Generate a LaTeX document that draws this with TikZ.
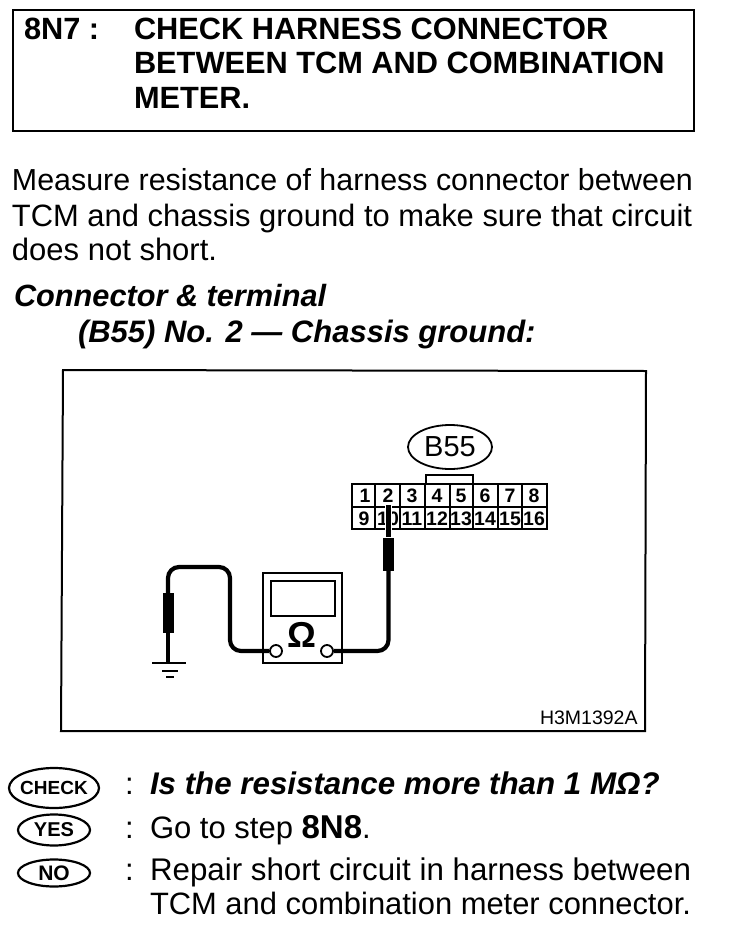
\documentclass[tikz,border=0pt]{standalone}
\usepackage{fontspec}
\setmainfont{Liberation Sans}
\usetikzlibrary{shapes.geometric}
\newcommand{\fsz}[1]{\fontsize{#1}{32}\selectfont}
\tikzset{
 txt/.style={anchor=base west,inner sep=0pt,outer sep=0pt,font=\fsz{31}},
 ttl/.style={txt,font=\fsz{30.75}\bfseries},
 bi/.style={txt,font=\fsz{31}\bfseries\itshape},
 badge/.style={ellipse,draw,line width=2.2pt,inner sep=0pt,minimum width=#1},
 cell/.style={inner sep=0pt,font=\fontsize{19.5}{20}\selectfont\bfseries},
 wire/.style={line width=4.2pt,rounded corners=11pt},
 probe/.style={fill=black,draw=none,minimum width=11pt,inner sep=0pt},
 term/.style={circle,draw,line width=1.8pt,fill=white,minimum size=12pt,inner sep=0pt}
}
\begin{document}
\begin{tikzpicture}[x=1pt,y=-1pt]
\useasboundingbox (0,0) rectangle (736,934);
% title box
\draw[line width=2.4pt] (13,10) rectangle (694,131);
\node[ttl] (t0) at (24,40) {8N7 :};
\node[ttl] (t1) at (134,40) {CHECK HARNESS CONNECTOR};
\node[ttl] (t2) at (134,74) {BETWEEN TCM AND COMBINATION};
\node[ttl] (t3) at (134,108) {METER.};
% body
\node[txt,font=\fsz{30.4}] (b1) at (12,190) {Measure resistance of harness connector between};
\node[txt,font=\fsz{30.9}] (b2) at (12,226) {TCM and chassis ground to make sure that circuit};
\node[txt] (b3) at (12,260) {does not short.};
\node[bi,font=\fsz{30.7}\bfseries\itshape] (c1) at (14,306) {Connector \& terminal};
\node[bi] (c2) at (78,342) {(B55) No. 2 — Chassis ground:};
% frame
\draw[line width=2pt] (63,370) -- (646,371) -- (645,731) -- (61,731) -- cycle;
% connector
\node[ellipse,draw,line width=1.8pt,minimum width=84pt,minimum height=44pt,inner sep=0pt,font=\fontsize{29}{30}\selectfont] (b55) at (450,447) {\makebox[0pt]{B55}};
\draw[line width=2pt] (426,483) -- (426,475) -- (473,475) -- (473,483);
\draw[line width=2pt] (352,484) rectangle (547,529);
\draw[line width=2pt] (352,507) -- (547,507);
\foreach \x in {375,400,425,450,473,498,522}{\draw[line width=2pt] (\x,484) -- (\x,529);}
\foreach \n/\x in {1/365,2/388,3/412,4/437,5/461,6/485,7/510,8/534}{\node[cell] (p\n) at (\x,495.5) {\n};}
\fill[white] (376,508) rectangle (399,528);
\foreach \n/\x in {9/364,10/388,11/412,12/437,13/461,14/485,15/510,16/534}{\node[cell] (p\n) at (\x,518.5) {\n};}
% meter
\draw[line width=1.8pt] (263,573) rectangle (342,663);
\draw[line width=1.8pt] (271,581) rectangle (335,616);
\node[inner sep=0pt,font=\fontsize{36}{36}\selectfont\bfseries] (om) at (302,635) {Ω};
\node[term] (tl) at (276,651) {};
\node[term] (tr) at (327,651) {};
% probes
\node[probe,minimum height=40pt] (pl) at (168,613) {};
\node[probe,minimum height=33pt] (pr) at (388.5,554) {};
\coordinate (tip) at (388.5,505);
\coordinate (g) at (168,663);
% wires
\draw[white,line width=7pt] (tip) -- (pr.north);
\draw[line width=4.2pt] (tip) -- (pr.north);
\draw[wire] (pr.south) -- (388.5,651) -- (tr.east);
\draw[wire] (pl.north) -- (168,567) -- (230,567) -- (230,651) -- (tl.west);
\draw[line width=4.2pt] (pl.south) -- (g);
% ground
\draw[line width=2.4pt] (152,663) -- (186,663);
\draw[line width=2.4pt] (162,671) -- (178,671);
\draw[line width=2.4pt] (166,677) -- (174,677);
\node[txt,font=\fontsize{19.5}{20}\selectfont] (code) at (540,724) {H3M1392A};
% legend
\node[badge=90pt,minimum height=40pt,font=\fontsize{19}{20}\selectfont\bfseries] (chk) at (54,788) {\makebox[0pt]{CHECK}};
\node[badge=72pt,minimum height=31pt,font=\fontsize{20}{20}\selectfont\bfseries] (yes) at (54,830) {\makebox[0pt]{YES}};
\node[badge=72pt,minimum height=27pt,font=\fontsize{21}{20}\selectfont\bfseries] (no) at (54,873) {\makebox[0pt]{NO}};
\node[txt] (k1) at (125,794) {:};
\node[txt] (k2) at (125,838) {:};
\node[txt] (k3) at (125,880) {:};
\node[bi,font=\fsz{31.3}\bfseries\itshape] (l1) at (150,794) {Is the resistance more than 1 MΩ?};
\node[txt] (l2) at (150,838) {Go to step {\fsz{33}\bfseries 8N8}.};
\node[txt,font=\fsz{31.3}] (l3) at (150,880) {Repair short circuit in harness between};
\node[txt,font=\fsz{30.9}] (l4) at (150,914) {TCM and combination meter connector.};
\end{tikzpicture}
\end{document}
